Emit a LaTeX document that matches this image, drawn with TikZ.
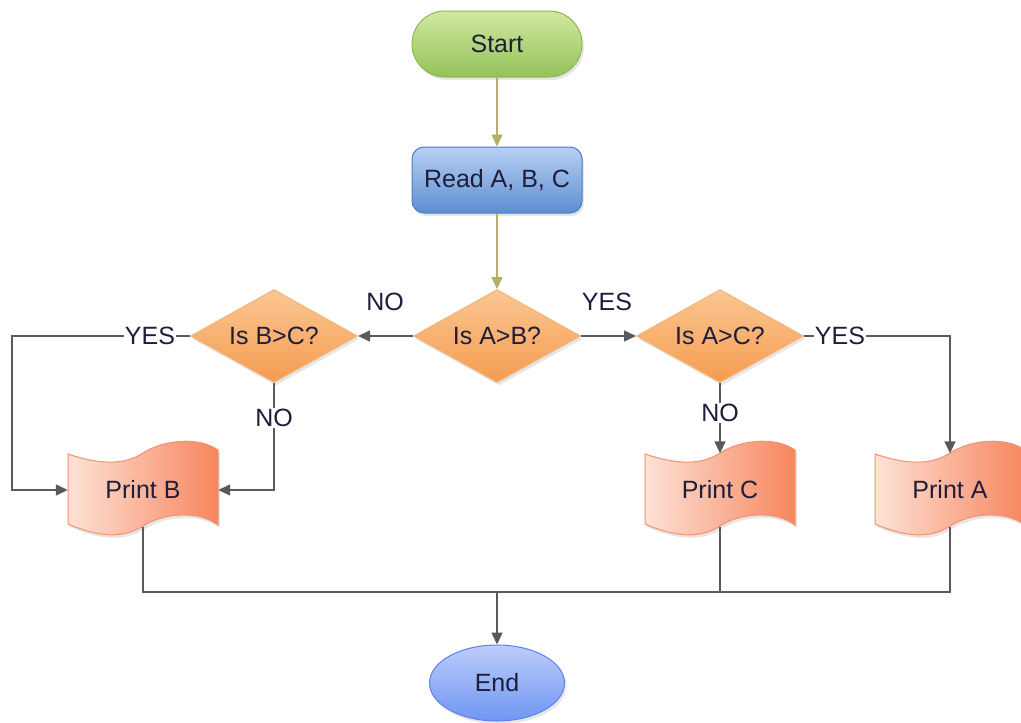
\documentclass[tikz,border=0pt]{standalone}
\usepackage{fontspec}
\setmainfont{Liberation Sans}
\usetikzlibrary{shapes.geometric,arrows.meta,shadows}
\definecolor{txt}{HTML}{1E1E3C}
\definecolor{lin}{HTML}{5A5A5A}
\definecolor{oli}{HTML}{B4AE6A}
\definecolor{tapeL}{HTML}{FEE2D6}
\definecolor{tapeR}{HTML}{F7865E}
\definecolor{tapeB}{HTML}{F29272}
\definecolor{diaT}{HTML}{FBC692}
\definecolor{diaB}{HTML}{F59C50}
\definecolor{diaD}{HTML}{F6B57A}
\definecolor{grT}{HTML}{D2E8A2}
\definecolor{grB}{HTML}{94C258}
\definecolor{grD}{HTML}{8DB85A}
\definecolor{blT}{HTML}{B6D0F2}
\definecolor{blB}{HTML}{5E8ED0}
\definecolor{blD}{HTML}{4C7DC0}
\definecolor{enT}{HTML}{BCCDFB}
\definecolor{enB}{HTML}{7096F2}
\definecolor{enD}{HTML}{5B82EE}
\newcommand\mytape[2]{%
  \path[tapefill] (#1,#2+14) .. controls (#1+30,#2+24) and (#1+55,#2+26) .. (#1+75,#2+13)
    .. controls (#1+95,#2+0) and (#1+130,#2-4) .. (#1+150,#2+10)
    -- (#1+150,#2+85) .. controls (#1+130,#2+70) and (#1+95,#2+73) .. (#1+75,#2+86)
    .. controls (#1+55,#2+99) and (#1+30,#2+97) .. (#1,#2+84) -- cycle;}
\begin{document}
\begin{tikzpicture}[x=1pt,y=-1pt,
  font=\fontsize{25}{29}\selectfont,
  shad/.style={drop shadow={opacity=0.2,shadow xshift=2pt,shadow yshift=-3pt}},
  tapefill/.style={draw=tapeB,line width=1pt,left color=tapeL,right color=tapeR,shad},
  tapenode/.style={rectangle,minimum width=150,minimum height=73,inner sep=0,text=txt},
  decision/.style={diamond,aspect=1.8,draw=diaD,line width=1pt,top color=diaT,bottom color=diaB,
    minimum width=167,minimum height=93,inner sep=0,text=txt,shad},
  startbox/.style={rectangle,rounded corners=33,draw=grD,line width=1pt,top color=grT,bottom color=grB,
    minimum width=170,minimum height=66,text=txt,shad},
  readbox/.style={rectangle,rounded corners=12,draw=blD,line width=1pt,top color=blT,bottom color=blB,
    minimum width=170,minimum height=66,text=txt,shad},
  endbox/.style={ellipse,draw=enD,line width=1pt,top color=enT,bottom color=enB,
    minimum width=135,minimum height=76,inner sep=0,text=txt,shad},
  conn/.style={draw=lin,line width=1.5pt,-{Triangle[length=12pt,width=11pt]}},
  oconn/.style={draw=oli,line width=1.5pt,-{Triangle[length=12pt,width=11pt]}},
  plain/.style={draw=lin,line width=1.5pt},
  lbl/.style={fill=white,inner sep=1pt,text=txt}]
\useasboundingbox (0,0) rectangle (1021,723);

% nodes
\node[startbox] (start) at (497,44) {Start};
\node[readbox] (read) at (497,180) {Read A, B, C};
\node[decision] (ab) at (497,336) {Is A>B?};
\node[decision] (bc) at (274,336) {Is B>C?};
\node[decision] (ac) at (720,336) {Is A>C?};

\mytape{68}{440}
\node[tapenode] (pb) at (143,490) {Print B};
\mytape{645}{440}
\node[tapenode] (pc) at (720,490) {Print C};
\mytape{875}{440}
\node[tapenode] (pa) at (950,490) {Print A};

\node[endbox] (end) at (497,683) {End};

% connectors
\draw[oconn] (start) -- (read);
\draw[oconn] (read) -- (ab);
\draw[conn] (ab.west) -- (bc.east);
\draw[conn] (ab.east) -- (ac.west);
\coordinate (lft) at (12,336);
\draw[conn] (bc.west) -- (lft) |- (pb.west);
\draw[conn] (bc.south) |- (pb.east);
\draw[conn] (ac.south) -- (pc.north);
\draw[conn] (ac.east) -| (pa.north);
\coordinate (m) at (497,592);
\draw[plain] (pb.south) |- (m);
\draw[plain] (pc.south) |- (m);
\draw[plain] (pa.south) |- (m);
\draw[conn] (m) -- (end);

% labels
\node[lbl] at (385,302) {NO};
\node[lbl] at (607,302) {YES};
\node[lbl] at (150,336) {YES};
\node[lbl] at (840,336) {YES};
\node[lbl] at (274,418) {NO};
\node[lbl] at (720,413) {NO};
\end{tikzpicture}
\end{document}
